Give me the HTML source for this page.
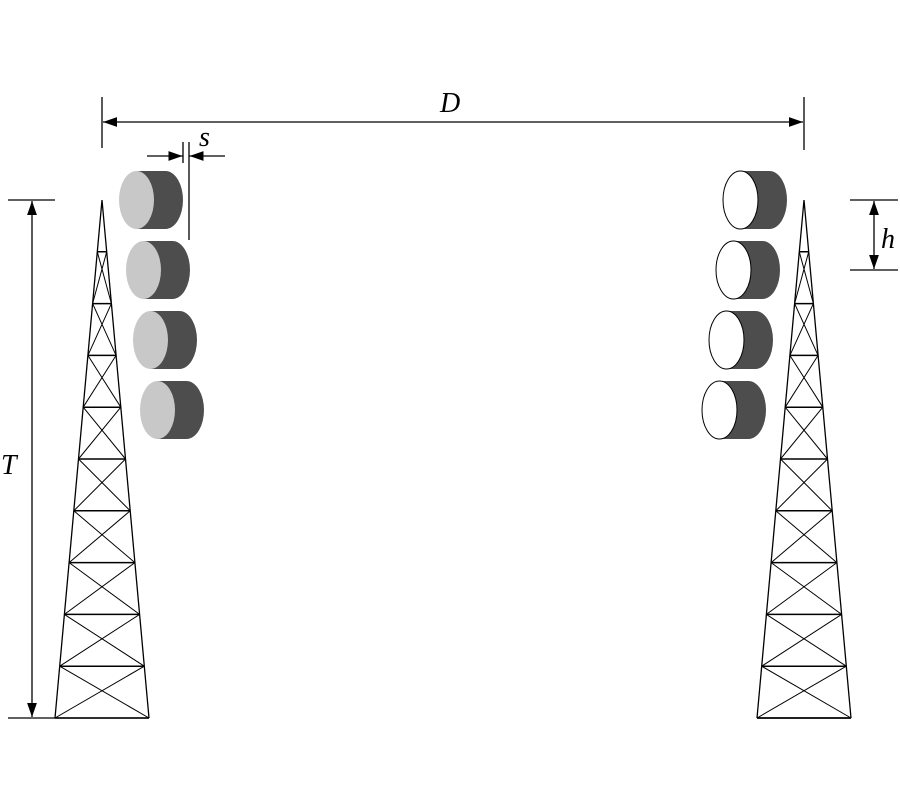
<!DOCTYPE html>
<html><head><meta charset="utf-8"><style>
html,body{margin:0;padding:0;background:#fff;}
svg{display:block;}
</style></head><body>
<svg width="900" height="800" viewBox="0 0 900 800" xmlns="http://www.w3.org/2000/svg">
<defs>
<marker id="ar" viewBox="0 0 10 10" refX="10" refY="5" markerWidth="14" markerHeight="14" markerUnits="userSpaceOnUse" orient="auto">
<path d="M0,1.5 L10,5 L0,8.5 Z" fill="#000"/>
</marker>
<g id="tower" stroke="#000" stroke-width="1.3" fill="none">
<path d="M102,200 L55,718 M102,200 L149,718"/>
<path d="M97.3,251.8H106.7 M92.6,303.6H111.4 M87.9,355.4H116.1 M83.2,407.2H120.8 M78.5,459H125.5 M73.8,510.8H130.2 M69.1,562.6H134.9 M64.4,614.4H139.6 M59.7,666.2H144.3 M55,718H149" stroke-width="1.5"/>
<path stroke-width="1" d="
M97.3,251.8L111.4,303.6 M106.7,251.8L92.6,303.6
M92.6,303.6L116.1,355.4 M111.4,303.6L87.9,355.4
M87.9,355.4L120.8,407.2 M116.1,355.4L83.2,407.2
M83.2,407.2L125.5,459 M120.8,407.2L78.5,459
M78.5,459L130.2,510.8 M125.5,459L73.8,510.8
M73.8,510.8L134.9,562.6 M130.2,510.8L69.1,562.6
M69.1,562.6L139.6,614.4 M134.9,562.6L64.4,614.4
M64.4,614.4L144.3,666.2 M139.6,614.4L59.7,666.2
M59.7,666.2L149,718 M144.3,666.2L55,718"/>
</g>
<g id="discL">
<rect x="136.5" y="171" width="29" height="58" fill="#4d4d4d"/>
<ellipse cx="165.5" cy="200" rx="17.5" ry="29" fill="#4d4d4d"/>
<ellipse cx="136.5" cy="200" rx="17.5" ry="29" fill="#c8c8c8"/>
</g>
<g id="discR">
<rect x="740.5" y="171" width="29" height="58" fill="#4d4d4d"/>
<ellipse cx="769.5" cy="200" rx="17.5" ry="29" fill="#4d4d4d"/>
<ellipse cx="740.5" cy="200" rx="17.5" ry="29" fill="#fff" stroke="#000" stroke-width="1"/>
</g>
</defs>

<use href="#tower"/>
<use href="#tower" transform="translate(702,0)"/>
<line x1="757" y1="718" x2="851" y2="718" stroke="#000" stroke-width="1.5"/>

<use href="#discL"/>
<use href="#discL" transform="translate(7,70)"/>
<use href="#discL" transform="translate(14,140)"/>
<use href="#discL" transform="translate(21,210)"/>

<use href="#discR"/>
<use href="#discR" transform="translate(-7,70)"/>
<use href="#discR" transform="translate(-14,140)"/>
<use href="#discR" transform="translate(-21,210)"/>

<g stroke="#000" stroke-width="1.3" fill="none">
<line x1="102" y1="97" x2="102" y2="148"/>
<line x1="804" y1="97" x2="804" y2="150"/>
<line x1="451" y1="122" x2="103" y2="122" marker-end="url(#ar)"/>
<line x1="451" y1="122" x2="803" y2="122" marker-end="url(#ar)"/>
<line x1="183" y1="142" x2="183" y2="163"/>
<line x1="189" y1="142" x2="189" y2="240"/>
<line x1="147" y1="156" x2="182.5" y2="156" marker-end="url(#ar)"/>
<line x1="225" y1="156" x2="189.5" y2="156" marker-end="url(#ar)"/>
<line x1="8" y1="200" x2="55" y2="200"/>
<line x1="8" y1="718" x2="149" y2="718"/>
<line x1="32" y1="460" x2="32" y2="201" marker-end="url(#ar)"/>
<line x1="32" y1="460" x2="32" y2="717" marker-end="url(#ar)"/>
<line x1="850" y1="200" x2="898" y2="200"/>
<line x1="850" y1="270" x2="898" y2="270"/>
<line x1="874" y1="235" x2="874" y2="201" marker-end="url(#ar)"/>
<line x1="874" y1="235" x2="874" y2="269" marker-end="url(#ar)"/>
</g>

<g font-family="Liberation Serif, serif" font-style="italic" font-size="28" fill="#000">
<text x="440" y="112">D</text>
<text x="199" y="146">s</text>
<text x="1" y="474">T</text>
<text x="881" y="248">h</text>
</g>
</svg>
</body></html>
